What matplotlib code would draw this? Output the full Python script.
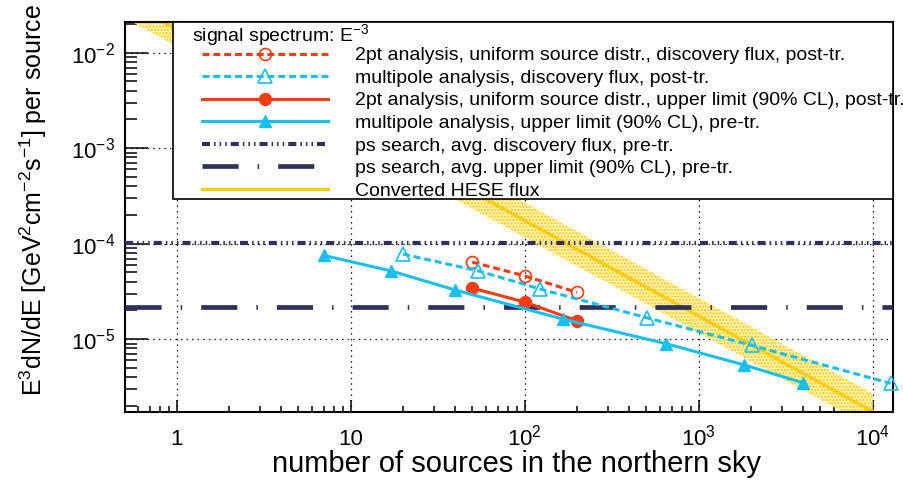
import numpy as np
import matplotlib
matplotlib.use("Agg")
import matplotlib.pyplot as plt
from matplotlib.ticker import NullFormatter, LogLocator
from matplotlib.patches import Rectangle

plt.rcParams['font.family'] = ['Liberation Sans', 'DejaVu Sans']
plt.rcParams['mathtext.default'] = 'regular'
plt.rcParams['lines.scale_dashes'] = False
plt.rcParams['hatch.linewidth'] = 1.0
plt.rcParams['hatch.color'] = '#ffcc00'

# values
n_2pt = [50, 100, 200]
disc_2pt = [6.42e-5, 4.61e-5, 3.09e-5]
ul_2pt = [3.43e-5, 2.45e-5, 1.56e-5]

n_mp_disc = [20, 54, 123, 502, 2030, 12700]
disc_mp = [7.78e-5, 5.2e-5, 3.35e-5, 1.68e-5, 8.6e-6, 3.45e-6]

n_mp_ul = [7, 17, 40, 167, 653, 1832, 3960]
ul_mp = [7.55e-5, 5.2e-5, 3.27e-5, 1.62e-5, 8.96e-6, 5.37e-6, 3.5e-6]

ps_disc = 1.03e-4
ps_ul = 2.15e-5

hese_n = [0.5, 10000]
hese_flux = [3.5e-2, 1.75e-6]
hese_lo = [2.33e-2, 1.17e-6]
hese_hi = [5.4e-2, 2.7e-6]

x_ticks = [1, 10, 100, 1000, 10000]
x_tick_labels = ['1', '10', '10$^{2}$', '10$^{3}$', '10$^{4}$']
y_ticks = [1e-5, 1e-4, 1e-3, 1e-2]
y_tick_labels = ['10$^{-5}$', '10$^{-4}$', '10$^{-3}$', '10$^{-2}$']

header = 'signal spectrum: E$^{-3}$'
labels = ['2pt analysis, uniform source distr., discovery flux, post-tr.',
          'multipole analysis, discovery flux, post-tr.',
          '2pt analysis, uniform source distr., upper limit (90% CL), post-tr.',
          'multipole analysis, upper limit (90% CL), pre-tr.',
          'ps search, avg. discovery flux, pre-tr.',
          'ps search, avg. upper limit (90% CL), pre-tr.',
          'Converted HESE flux']

red = '#ff3b12'
cyan = '#19bff0'
navy = '#30305f'
yellow = '#ffcc00'

fig = plt.figure(figsize=(9.04, 4.83), dpi=100)
ax = fig.add_axes([0.1383, 0.147, 0.849, 0.8075])

# HESE band + line
ax.fill_between(hese_n, hese_lo, hese_hi, facecolor='#fff0b0', edgecolor=yellow,
                hatch='.....', linewidth=0, zorder=1)
l_hese, = ax.plot(hese_n, hese_flux, color=yellow, lw=2.4, zorder=2)

# point source search lines
l_psd = ax.axhline(ps_disc, color=navy, lw=3.0,
                   ls=(0, [5.8, 2.9, 1.1, 2.9, 1.1, 2.9, 1.1, 2.9]), zorder=3)
l_psu = ax.axhline(ps_ul, color=navy, lw=3.4, ls=(0, [26, 13.7, 1.1, 13.7]), zorder=3)

l_2d, = ax.plot(n_2pt, disc_2pt, color=red, lw=2.2, ls=(0, [5, 2.8]),
                marker='o', ms=8.6, mfc='none', mec=red, mew=1.2, zorder=4)
l_md, = ax.plot(n_mp_disc, disc_mp, color=cyan, lw=2.2, ls=(0, [5, 2.8]),
                marker='^', ms=9.5, mfc='none', mec=cyan, mew=1.2, zorder=4, clip_on=False)
l_2u, = ax.plot(n_2pt, ul_2pt, color=red, lw=2.2, marker='o', ms=8.6, zorder=5)
l_mu, = ax.plot(n_mp_ul, ul_mp, color=cyan, lw=2.2, marker='^', ms=9.0, zorder=5)

ax.set_xscale('log')
ax.set_yscale('log')
ax.set_xlim(0.505, 1.3e4)
ax.set_ylim(1.73e-6, 2.1e-2)

ax.set_xticks(x_ticks, labels=x_tick_labels)
ax.set_yticks(y_ticks, labels=y_tick_labels)
ax.xaxis.set_minor_locator(LogLocator(base=10, subs=np.arange(2, 10), numticks=20))
ax.yaxis.set_minor_locator(LogLocator(base=10, subs=np.arange(2, 10), numticks=20))
ax.xaxis.set_minor_formatter(NullFormatter())
ax.yaxis.set_minor_formatter(NullFormatter())

ax.tick_params(axis='y', which='major', direction='in', length=16.5, width=1.1,
               labelsize=16, pad=7)
ax.tick_params(axis='y', which='minor', direction='in', length=8.6, width=1.1)
ax.tick_params(axis='x', which='major', direction='in', length=8.6, width=1.1,
               labelsize=16, pad=24)
ax.tick_params(axis='x', which='minor', direction='in', length=4.3, width=1.1)
plt.setp(ax.get_xticklabels(), va='baseline')

for s in ax.spines.values():
    s.set_linewidth(1.5)

ax.set_axisbelow(True)
ax.grid(True, which='major', color='k', lw=0.9, ls=(0, (1, 3)))

# legend box, header and entries
ax.add_patch(Rectangle((0.0626, 0.546), 0.9374, 0.454, transform=ax.transAxes,
                       facecolor='white', edgecolor='k', lw=1.2, zorder=9, clip_on=False))
ax.text(0.0874, 0.9667, header, transform=ax.transAxes, fontsize=14,
        ha='left', va='center', zorder=11)
leg = ax.legend([l_2d, l_md, l_2u, l_mu, l_psd, l_psu, l_hese], labels,
                loc='upper left', bbox_to_anchor=(0.1004, 0.9366), borderaxespad=0,
                borderpad=0, fontsize=14, handlelength=6.5, handletextpad=1.34,
                labelspacing=0.255, frameon=False, numpoints=1)
leg.set_zorder(10)

fig.text(0.5713, 0.039, 'number of sources in the northern sky', fontsize=21,
         ha='center', va='center')
fig.text(0.0365, 0.585, 'E$^{3}$dN/dE [GeV$^{2}$cm$^{-2}$s$^{-1}$] per source',
         fontsize=18, rotation=90, ha='center', va='center')

fig.savefig('out.png', dpi=100)
